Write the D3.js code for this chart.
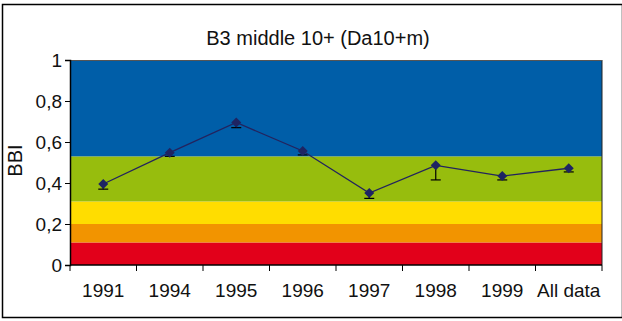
<!DOCTYPE html>
<head>
<meta http-equiv="Content-type" content="text/html;charset=UTF-8">
</head>
<style>
body { margin: 0; background: #fff; }
svg { display: block; font-family: "Liberation Sans", Arial, sans-serif; }
</style>
<svg width="622" height="321"></svg>
<script src="https://d3js.org/d3.v7.min.js"></script>
<script>

// data
var years = ["1991", "1994", "1995", "1996", "1997", "1998", "1999", "All data"];
var bbi = [0.395, 0.548, 0.695, 0.556, 0.351, 0.486, 0.434, 0.472];
var bbiLow = [0.37, 0.53, 0.67, 0.537, 0.325, 0.415, 0.415, 0.454];
var yTicks = [0, 0.2, 0.4, 0.6, 0.8, 1];
var yTickLabels = ["0", "0,2", "0,4", "0,6", "0,8", "1"];
// quality classes behind the line
var bandEdges = [0, 0.11, 0.2, 0.31, 0.53, 1];
var bandColors = ["#e2001a", "#f29400", "#ffdd00", "#97bd0d", "#005ea8"];

var svg = d3.select("svg"),
    margin = {top: 60, right: 20, bottom: 56, left: 70},
    width = +svg.attr("width") - margin.left - margin.right,
    height = +svg.attr("height") - margin.top - margin.bottom;

// outer frame
svg.append("rect")
    .attr("x", 2.5).attr("y", 4.5)
    .attr("width", 620).attr("height", 313)
    .attr("fill", "none").attr("stroke", "#000").attr("stroke-width", 1.5);

var g = svg.append("g").attr("transform", "translate(" + margin.left + "," + margin.top + ")");

var x = d3.scaleBand().domain(years).range([0, width]);
var y = d3.scaleLinear().domain([0, 1]).range([height, 0]);

// coloured bands
g.selectAll("rect.band")
  .data(bandColors)
  .enter().append("rect")
    .attr("class", "band")
    .attr("x", 0)
    .attr("width", width)
    .attr("y", function(d, i) { return y(bandEdges[i + 1]); })
    .attr("height", function(d, i) { return y(bandEdges[i]) - y(bandEdges[i + 1]); })
    .attr("fill", function(d) { return d; });

// right edge + top edge of plot area
g.append("line").attr("x1", width).attr("x2", width).attr("y1", 0).attr("y2", height)
    .attr("stroke", "#222").attr("stroke-width", 1);
g.append("line").attr("x1", 0).attr("x2", width).attr("y1", 0.5).attr("y2", 0.5)
    .attr("stroke", "#555").attr("stroke-width", 1);

// x axis, ticks between categories
var xAxis = g.append("g")
    .attr("transform", "translate(0," + height + ")");
xAxis.append("line").attr("x1", 0).attr("x2", width)
    .attr("stroke", "#000").attr("stroke-width", 1.5);
xAxis.selectAll("line.tk")
  .data(years.concat(["end"]))
  .enter().append("line")
    .attr("class", "tk")
    .attr("x1", function(d, i) { return i < years.length ? x(d) : width; })
    .attr("x2", function(d, i) { return i < years.length ? x(d) : width; })
    .attr("y1", 0).attr("y2", 6)
    .attr("stroke", "#000");
xAxis.selectAll("text")
  .data(years)
  .enter().append("text")
    .attr("x", function(d) { return x(d) + x.bandwidth() / 2; })
    .attr("y", 32)
    .attr("text-anchor", "middle")
    .attr("font-size", 19)
    .attr("fill", "#111")
    .text(function(d) { return d; });

// y axis
g.append("g")
    .call(d3.axisLeft(y).tickValues(yTicks).tickSize(5)
      .tickFormat(function(d, i) { return yTickLabels[i]; }))
    .call(function(a) {
      a.select(".domain").attr("stroke-width", 1.5);
      a.selectAll("text").attr("font-size", 19).attr("fill", "#111").attr("dx", "0");
    });

g.append("text")
    .attr("transform", "rotate(-90)")
    .attr("x", -height / 2 + 2)
    .attr("y", -48)
    .attr("text-anchor", "middle")
    .attr("font-size", 20)
    .attr("fill", "#111")
    .text("BBI");

// title
svg.append("text")
    .attr("x", 318)
    .attr("y", 45)
    .attr("text-anchor", "middle")
    .attr("font-size", 20)
    .attr("fill", "#111")
    .text("B3 middle 10+ (Da10+m)");

var cx = function(i) { return x(years[i]) + x.bandwidth() / 2; };

// error bars (lower only)
var err = g.append("g").attr("stroke", "#000").attr("stroke-width", 1.2);
bbi.forEach(function(v, i) {
  err.append("line").attr("x1", cx(i)).attr("x2", cx(i))
      .attr("y1", y(v)).attr("y2", y(bbiLow[i]));
  err.append("line").attr("x1", cx(i) - 5).attr("x2", cx(i) + 5)
      .attr("y1", y(bbiLow[i])).attr("y2", y(bbiLow[i]));
});

// line
g.append("path")
    .datum(bbi)
    .attr("fill", "none")
    .attr("stroke", "#23235e")
    .attr("stroke-width", 1.3)
    .attr("d", d3.line().x(function(d, i) { return cx(i); }).y(function(d) { return y(d); }));

// diamond markers
g.selectAll("path.pt")
  .data(bbi)
  .enter().append("path")
    .attr("class", "pt")
    .attr("transform", function(d, i) { return "translate(" + cx(i) + "," + y(d) + ")"; })
    .attr("d", "M0,-5L5,0L0,5L-5,0Z")
    .attr("fill", "#1e2462");

</script>
